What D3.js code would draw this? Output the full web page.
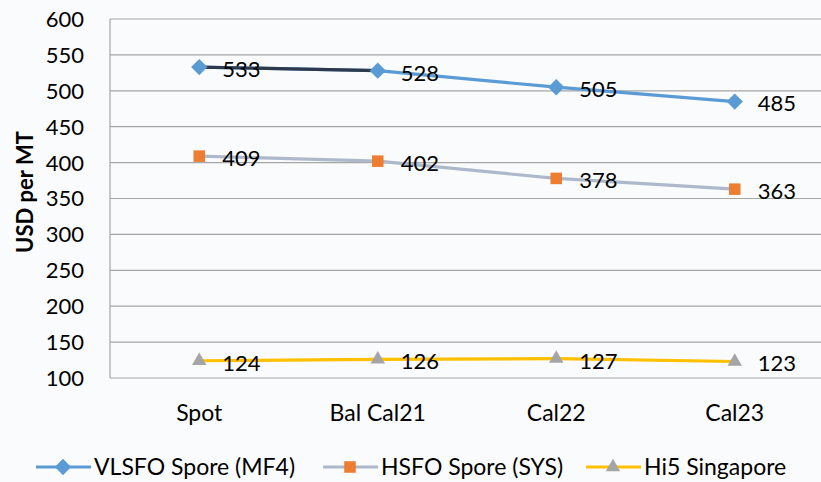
<!DOCTYPE html>
<html><head><meta charset="utf-8">
<script src="https://cdn.jsdelivr.net/npm/d3@7"></script>
<style>
html,body{margin:0;padding:0;background:#fafbfd;}
svg{display:block;}
text{font-family:Lato, "Open Sans", sans-serif;}
</style></head>
<body><div id="chart"></div>
<script>
const categories = ["Spot", "Bal Cal21", "Cal22", "Cal23"];
const vlsfo = [533, 528, 505, 485];
const hsfo = [409, 402, 378, 363];
const hi5 = [124, 126, 127, 123];
const yTicks = [100, 150, 200, 250, 300, 350, 400, 450, 500, 550, 600];
const seriesNames = ["VLSFO Spore (MF4)", "HSFO Spore (SYS)", "Hi5 Singapore"];

const W = 821, H = 482;
const m = {left:110, right:-3, top:19, bottom:104};
const svg = d3.select("#chart").append("svg").attr("width", W).attr("height", H);
svg.append("rect").attr("width", W).attr("height", H).attr("fill", "#fafbfd");

const x = d3.scaleBand().domain(categories).range([m.left, W - m.right]).paddingInner(0).paddingOuter(0);
const y = d3.scaleLinear().domain([100, 600]).range([H - m.bottom, m.top]);
const cx = c => x(c) + x.bandwidth() / 2;

// gridlines
svg.append("g").selectAll("line").data(yTicks).join("line")
  .attr("x1", m.left).attr("x2", W).attr("y1", d => y(d)).attr("y2", d => y(d))
  .attr("stroke", "#a6a6a6").attr("stroke-width", 1.2);
// y axis line
svg.append("line").attr("x1", m.left).attr("x2", m.left).attr("y1", y(600)).attr("y2", y(100))
  .attr("stroke", "#a6a6a6").attr("stroke-width", 1.2);

// y tick labels
svg.append("g").selectAll("text").data(yTicks).join("text")
  .attr("x", 84).attr("y", d => y(d)).attr("dy", "0.36em").attr("text-anchor", "end")
  .attr("font-size", 22).attr("fill", "#000").text(d => d);

// category labels
svg.append("g").selectAll("text").data(categories).join("text")
  .attr("x", d => cx(d)).attr("y", 413).attr("dy", "0.36em").attr("text-anchor", "middle")
  .attr("font-size", 23).attr("fill", "#000").text(d => d);

// y title
svg.append("text").attr("transform", "translate(25,192) rotate(-90)")
  .attr("text-anchor", "middle").attr("dy", "0.36em").attr("font-size", 22).attr("font-weight", "bold")
  .text("USD per MT");

const pts = arr => arr.map((v, i) => ({c: categories[i], v}));
const line = d3.line().x(d => cx(d.c)).y(d => y(d.v));

const series = [
  {data: pts(vlsfo), stroke: "#5b9bd5", marker: "diamond", mfill: "#5b9bd5"},
  {data: pts(hsfo), stroke: "#adb9ca", marker: "square", mfill: "#ed7d31"},
  {data: pts(hi5), stroke: "#ffc000", marker: "triangle", mfill: "#a5a5a5"}
];
const sym = {diamond: d3.symbolDiamond2, square: d3.symbolSquare2, triangle: d3.symbolTriangle2};
const symSize = {diamond: 170, square: 170, triangle: 150};

series.forEach((s, si) => {
  svg.append("path").datum(s.data).attr("d", line).attr("fill", "none")
    .attr("stroke", s.stroke).attr("stroke-width", 3.2).attr("stroke-linejoin", "round");
  if (si === 0) {
    svg.append("path").datum(s.data.slice(0, 2)).attr("d", line).attr("fill", "none")
      .attr("stroke", "#2e3a4b").attr("stroke-width", 3.2);
  }
});
series.forEach(s => {
  svg.append("g").selectAll("path").data(s.data).join("path")
    .attr("transform", d => `translate(${cx(d.c)},${y(d.v)})`)
    .attr("d", d3.symbol().type(sym[s.marker]).size(symSize[s.marker]))
    .attr("fill", s.mfill);
  svg.append("g").selectAll("text").data(s.data).join("text")
    .attr("x", d => cx(d.c) + 23).attr("y", d => y(d.v) + 2).attr("dy", "0.36em")
    .attr("font-size", 22).attr("fill", "#000").text(d => d.v);
});

// legend
const legX = [36, 323, 586];
const lg = svg.append("g");
series.forEach((s, i) => {
  const g = lg.append("g").attr("transform", `translate(${legX[i]},467)`);
  g.append("line").attr("x1", 0).attr("x2", 55).attr("stroke", s.stroke).attr("stroke-width", 3.2);
  g.append("path").attr("transform", "translate(27,0)")
    .attr("d", d3.symbol().type(sym[s.marker]).size(symSize[s.marker]))
    .attr("fill", s.mfill);
  g.append("text").attr("x", 58).attr("dy", "0.36em").attr("font-size", 23).text(seriesNames[i]);
});
</script></body></html>
